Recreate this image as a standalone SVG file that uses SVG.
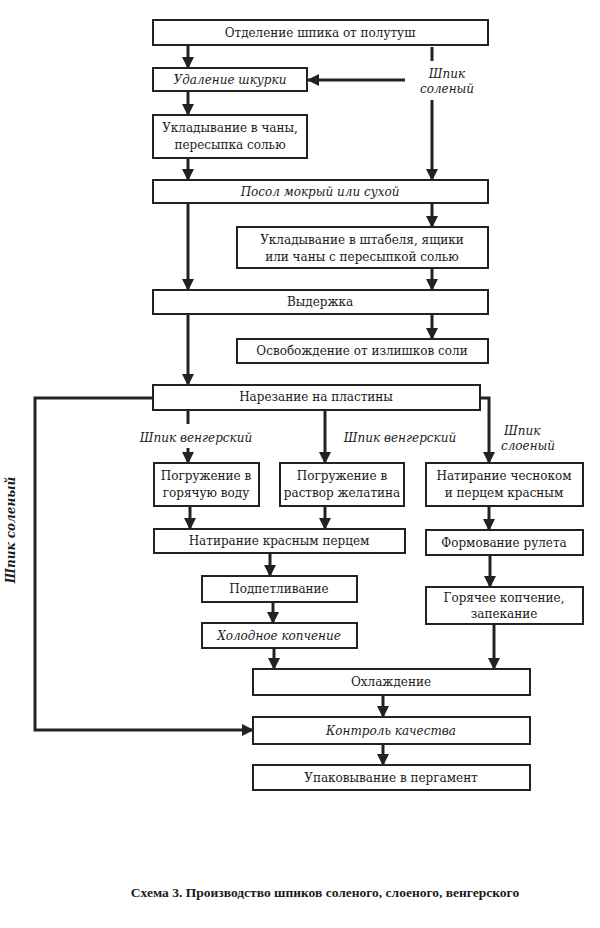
<svg xmlns="http://www.w3.org/2000/svg" width="600" height="928" viewBox="0 0 600 928">
<defs>
<marker id="ah" markerUnits="userSpaceOnUse" markerWidth="12" markerHeight="12" refX="11" refY="6" orient="auto"><path d="M0,0 L12,6 L0,12 z" fill="#222"/></marker>
<style>
.box{fill:#fff;stroke:#222;stroke-width:2}
.t{font-family:"DejaVu Serif","Liberation Serif",serif;font-size:12px;fill:#1a1a1a;text-anchor:middle}
.i{font-style:italic}
.c{stroke:#222;stroke-width:3;fill:none}
.a{marker-end:url(#ah)}
.lbl{font-family:"DejaVu Serif","Liberation Serif",serif;font-size:12px;font-style:italic;fill:#1a1a1a}
.cap{font-family:"Liberation Serif","DejaVu Serif",serif;font-size:13.5px;font-weight:bold;fill:#1a1a1a;text-anchor:middle}
</style>
</defs>
<rect width="600" height="928" fill="#fff"/>
<g id="connectors">
<path class="c a" d="M188,45 V68"/>
<path class="c a" d="M188,91 V115"/>
<path class="c a" d="M188,158 V180"/>
<path class="c a" d="M405,80 H308"/>
<path class="c" d="M432,47 V61"/>
<path class="c a" d="M432,100 V180"/>
<path class="c a" d="M432,203 V227"/>
<path class="c a" d="M432,268 V290"/>
<path class="c a" d="M432,314 V339"/>
<path class="c a" d="M188,203 V290"/>
<path class="c a" d="M188,314 V385"/>
<path class="c" d="M188,410 V424"/>
<path class="c a" d="M188,448 V463"/>
<path class="c a" d="M325,410 V463"/>
<path class="c a" d="M480,398 H489 V463"/>
<path class="c a" d="M190,506 V529"/>
<path class="c a" d="M325,506 V529"/>
<path class="c a" d="M489,506 V530"/>
<path class="c a" d="M270,553 V576"/>
<path class="c a" d="M273,602 V623"/>
<path class="c a" d="M274,648 V669"/>
<path class="c a" d="M490,555 V587"/>
<path class="c a" d="M494,624 V669"/>
<path class="c a" d="M383,695 V717"/>
<path class="c a" d="M383,744 V765"/>
<path class="c a" d="M153,398 H35 V730 H253"/>
</g>
<g id="labels">
<text class="lbl" x="447" y="78" text-anchor="middle">Шпик</text>
<text class="lbl" x="447" y="93" text-anchor="middle">соленый</text>
<text class="lbl" x="196" y="442" text-anchor="middle">Шпик венгерский</text>
<text class="lbl" x="400" y="442" text-anchor="middle">Шпик венгерский</text>
<text class="lbl" x="504" y="435">Шпик</text>
<text class="lbl" x="501" y="450">слоеный</text>
<text class="lbl" x="0" y="0" text-anchor="middle" font-weight="bold" font-size="11" transform="translate(15,530) rotate(-90)">Шпик соленый</text>
</g>
<g id="n1"><rect class="box" x="153" y="20" width="335" height="25"/><text class="t" x="320" y="37">Отделение шпика от полутуш</text></g>
<g id="n2"><rect class="box" x="153" y="68" width="154" height="23"/><text class="t i" x="230" y="84">Удаление шкурки</text></g>
<g id="n3"><rect class="box" x="153" y="115" width="154" height="43"/><text class="t" x="230" y="132">Укладывание в чаны,</text><text class="t" x="230" y="149">пересыпка солью</text></g>
<g id="n4"><rect class="box" x="153" y="180" width="335" height="23"/><text class="t i" x="320" y="196">Посол мокрый или сухой</text></g>
<g id="n5"><rect class="box" x="237" y="227" width="251" height="41"/><text class="t" x="362" y="244">Укладывание в штабеля, ящики</text><text class="t" x="362" y="261">или чаны с пересыпкой солью</text></g>
<g id="n6"><rect class="box" x="153" y="290" width="335" height="24"/><text class="t" x="320" y="306">Выдержка</text></g>
<g id="n7"><rect class="box" x="237" y="339" width="251" height="24"/><text class="t" x="362" y="355">Освобождение от излишков соли</text></g>
<g id="n8"><rect class="box" x="153" y="385" width="327" height="25"/><text class="t" x="316" y="401">Нарезание на пластины</text></g>
<g id="n9"><rect class="box" x="154" y="463" width="105" height="43"/><text class="t" x="206" y="480">Погружение в</text><text class="t" x="206" y="497">горячую воду</text></g>
<g id="n10"><rect class="box" x="280" y="463" width="124" height="43"/><text class="t" x="342" y="480">Погружение в</text><text class="t" x="342" y="497">раствор желатина</text></g>
<g id="n11"><rect class="box" x="426" y="463" width="157" height="43"/><text class="t" x="504" y="480">Натирание чесноком</text><text class="t" x="504" y="497">и перцем красным</text></g>
<g id="n12"><rect class="box" x="154" y="529" width="251" height="24"/><text class="t" x="279" y="545">Натирание красным перцем</text></g>
<g id="n13"><rect class="box" x="426" y="530" width="157" height="25"/><text class="t" x="504" y="547">Формование рулета</text></g>
<g id="n14"><rect class="box" x="202" y="576" width="155" height="26"/><text class="t" x="279" y="593">Подпетливание</text></g>
<g id="n15"><rect class="box" x="202" y="623" width="155" height="25"/><text class="t i" x="279" y="640">Холодное копчение</text></g>
<g id="n16"><rect class="box" x="426" y="587" width="157" height="37"/><text class="t" x="504" y="602">Горячее копчение,</text><text class="t" x="504" y="618">запекание</text></g>
<g id="n17"><rect class="box" x="253" y="669" width="277" height="26"/><text class="t" x="391" y="686">Охлаждение</text></g>
<g id="n18"><rect class="box" x="253" y="717" width="277" height="27"/><text class="t i" x="391" y="735">Контроль качества</text></g>
<g id="n19"><rect class="box" x="253" y="765" width="277" height="25"/><text class="t" x="391" y="782">Упаковывание в пергамент</text></g>
<text class="cap" x="325" y="897">Схема 3. Производство шпиков соленого, слоеного, венгерского</text>
</svg>
